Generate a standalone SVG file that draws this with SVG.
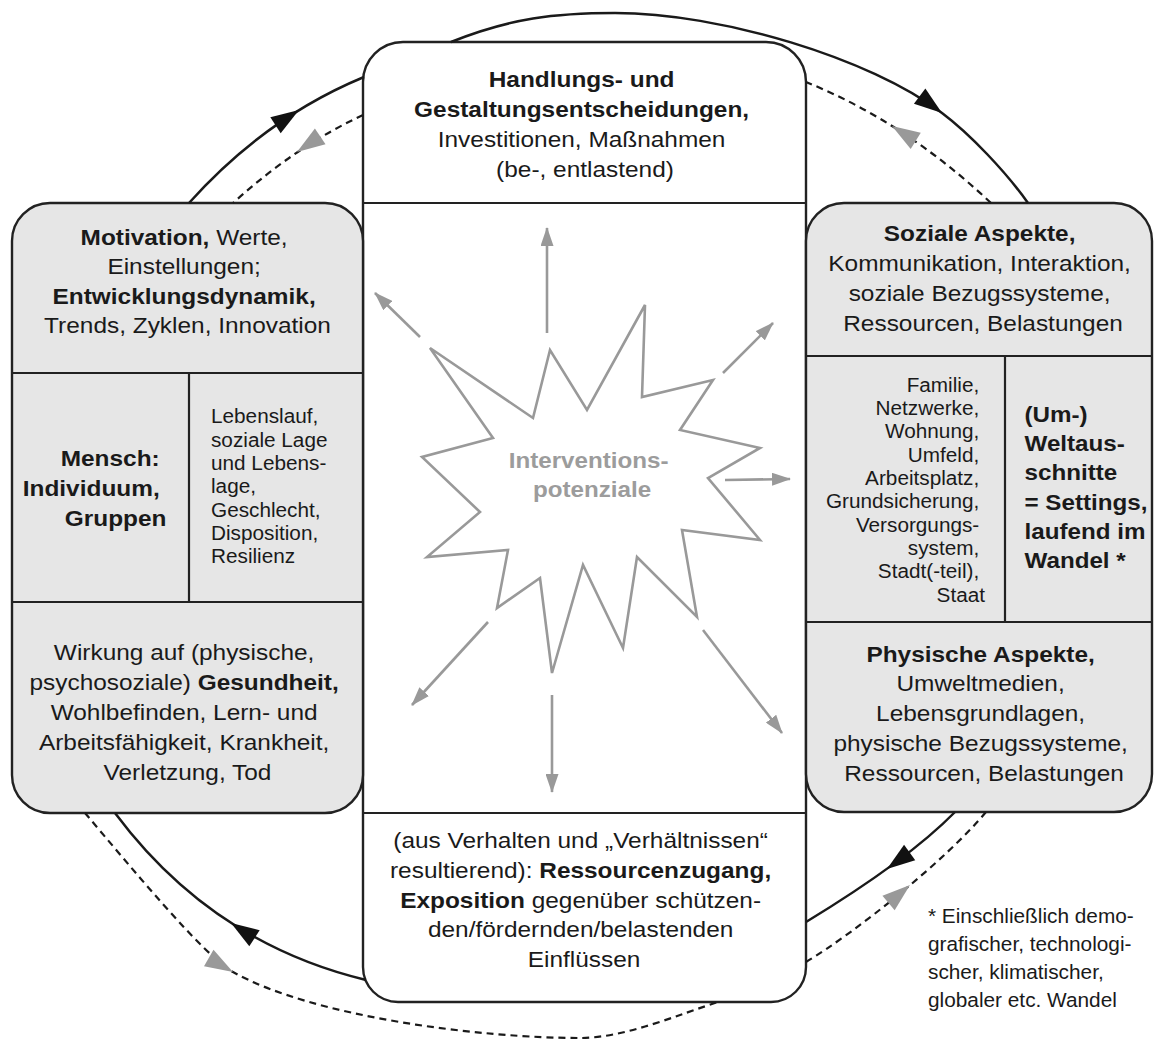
<svg xmlns="http://www.w3.org/2000/svg" xmlns:xlink="http://www.w3.org/1999/xlink" width="1155" height="1042" viewBox="0 0 1155 1042">
<defs>
<style>
.box{stroke:#222;stroke-width:2.4}
.side{fill:#e6e6e6}
.white{fill:#fff}
.div{fill:none;stroke:#222;stroke-width:2.2}
.t{font-family:"Liberation Sans",Arial,Helvetica,sans-serif;font-size:22px;fill:#1a1a1a}
.s{font-size:19.5px}
.b{font-weight:bold}
.arc{fill:none;stroke:#1a1a1a;stroke-width:2.5}
.dash{fill:none;stroke:#1a1a1a;stroke-width:2.2;stroke-dasharray:7 5}
.ray{fill:none;stroke:#999;stroke-width:2.6;marker-end:url(#rayhead)}
.star{fill:#fff;stroke:#999;stroke-width:2.6;stroke-linejoin:miter}
.it{font-family:"Liberation Sans",Arial,Helvetica,sans-serif;font-size:22px;font-weight:bold;fill:#9c9c9c}
.ahk{fill:#111}
.ahg{fill:#999}
</style>
<marker id="rayhead" viewBox="0 0 19 13" markerWidth="19" markerHeight="13" refX="18" refY="6.5" orient="auto" markerUnits="userSpaceOnUse"><path d="M0,0 L19,6.5 L0,13 Z" fill="#999"/></marker>
<path id="ah" d="M0,0 L-28,-9.5 L-28,9.5 Z"/>
</defs>
<rect width="1155" height="1042" fill="#fff"/>

<g id="node-center-frame">
<path class="box white" d="M363,82 A40,40 0 0 1 403,42 L766,42 A40,40 0 0 1 806,82 L806,967 A35,35 0 0 1 771,1002 L398,1002 A35,35 0 0 1 363,967 Z"/>
<path class="div" d="M363,203 L806,203 M363,813 L806,813"/>
</g>

<g id="node-handlungen">
<g transform="translate(585,0) scale(1.11,1)">
<text class="t" text-anchor="middle">
<tspan class="b" x="0" y="87">Handlungs- und</tspan>
<tspan class="b" x="0" y="117">Gestaltungsentscheidungen,</tspan>
<tspan x="0" y="147">Investitionen, Maßnahmen</tspan>
<tspan x="0" y="177">(be-, entlastend)</tspan>
</text>
</g>
</g>

<g id="node-mensch">
<rect class="box side" x="12" y="203" width="351" height="610" rx="38"/>
<path class="div" d="M12,373 L363,373 M12,602 L363,602 M189,373 L189,602"/>
<g transform="translate(187.5,0) scale(1.11,1)">
<text class="t" text-anchor="middle">
<tspan x="0" y="245"><tspan class="b">Motivation,</tspan> Werte,</tspan>
<tspan x="0" y="274">Einstellungen;</tspan>
<tspan class="b" x="0" y="304">Entwicklungsdynamik,</tspan>
<tspan x="0" y="333">Trends, Zyklen, Innovation</tspan>
</text>
</g>
<g transform="translate(166.5,0) scale(1.11,1)">
<text class="t b" text-anchor="end">
<tspan x="0" y="466">Mensch:</tspan>
<tspan x="0" y="496">Individuum,</tspan>
<tspan x="0" y="526">Gruppen</tspan>
</text>
</g>
<g transform="translate(211,0) scale(1.064,1)">
<text class="t s">
<tspan x="0" y="423">Lebenslauf,</tspan>
<tspan x="0" y="447">soziale Lage</tspan>
<tspan x="0" y="470">und Lebens-</tspan>
<tspan x="0" y="493">lage,</tspan>
<tspan x="0" y="517">Geschlecht,</tspan>
<tspan x="0" y="540">Disposition,</tspan>
<tspan x="0" y="563">Resilienz</tspan>
</text>
</g>
<g transform="translate(187.5,0) scale(1.11,1)">
<text class="t" text-anchor="middle">
<tspan x="0" y="660">Wirkung auf (physische,</tspan>
<tspan x="0" y="690">psychosoziale) <tspan class="b">Gesundheit,</tspan></tspan>
<tspan x="0" y="720">Wohlbefinden, Lern- und</tspan>
<tspan x="0" y="750">Arbeitsfähigkeit, Krankheit,</tspan>
<tspan x="0" y="780">Verletzung, Tod</tspan>
</text>
</g>
</g>

<g id="node-settings">
<rect class="box side" x="806" y="203" width="346" height="609" rx="38"/>
<path class="div" d="M806,356 L1152,356 M806,622 L1152,622 M1005,356 L1005,622"/>
<g transform="translate(983,0) scale(1.11,1)">
<text class="t" text-anchor="middle">
<tspan class="b" x="0" y="241">Soziale Aspekte,</tspan>
<tspan x="0" y="271">Kommunikation, Interaktion,</tspan>
<tspan x="0" y="301">soziale Bezugssysteme,</tspan>
<tspan x="0" y="331">Ressourcen, Belastungen</tspan>
</text>
</g>
<g transform="translate(985,0) scale(1.064,1)">
<text class="t s" text-anchor="end">
<tspan x="0" y="392">Familie,</tspan>
<tspan x="0" y="415">Netzwerke,</tspan>
<tspan x="0" y="438">Wohnung,</tspan>
<tspan x="0" y="462">Umfeld,</tspan>
<tspan x="0" y="485">Arbeitsplatz,</tspan>
<tspan x="0" y="508">Grundsicherung,</tspan>
<tspan x="0" y="532">Versorgungs-</tspan>
<tspan x="0" y="555">system,</tspan>
<tspan x="0" y="578">Stadt(-teil),</tspan>
<tspan x="0" y="602">Staat</tspan>
</text>
</g>
<g transform="translate(1024.5,0) scale(1.1,1)">
<text class="t b">
<tspan x="0" y="422">(Um-)</tspan>
<tspan x="0" y="451">Weltaus-</tspan>
<tspan x="0" y="480">schnitte</tspan>
<tspan x="0" y="510">= Settings,</tspan>
<tspan x="0" y="539">laufend im</tspan>
<tspan x="0" y="568">Wandel *</tspan>
</text>
</g>
<g transform="translate(984,0) scale(1.11,1)">
<text class="t" text-anchor="middle">
<tspan class="b" x="0" y="662">Physische Aspekte,</tspan>
<tspan x="0" y="691">Umweltmedien,</tspan>
<tspan x="0" y="721">Lebensgrundlagen,</tspan>
<tspan x="0" y="751">physische Bezugssysteme,</tspan>
<tspan x="0" y="781">Ressourcen, Belastungen</tspan>
</text>
</g>
</g>

<g id="node-ressourcenzugang">
<g transform="translate(584,0) scale(1.11,1)">
<text class="t" text-anchor="middle">
<tspan x="0" y="848">(aus Verhalten und „Verhältnissen“</tspan>
<tspan x="0" y="878">resultierend): <tspan class="b">Ressourcenzugang,</tspan></tspan>
<tspan x="0" y="908"><tspan class="b">Exposition</tspan> gegenüber schützen-</tspan>
<tspan x="0" y="937">den/fördernden/belastenden</tspan>
<tspan x="0" y="967">Einflüssen</tspan>
</text>
</g>
</g>

<g id="node-interventionspotenziale">
<polygon class="star" points="430,348 533,418 550,350 587,410 645,305 642,397 713,380 680,430 760,448 708,478 760,540 682,530 697,617 637,557 623,648 583,565 552,673 540,578 497,608 508,550 427,557 480,512 422,457 493,438"/>
<g transform="translate(592,0) scale(1.1,1)">
<text class="it" text-anchor="middle">
<tspan x="0" y="468">Interventions-</tspan>
<tspan x="0" y="497">potenziale</tspan>
</text>
</g>
</g>

<g id="footnote">
<g transform="translate(928,0) scale(1.067,1)">
<text class="t s">
<tspan x="0" y="923">* Einschließlich demo-</tspan>
<tspan x="0" y="951">grafischer, technologi-</tspan>
<tspan x="0" y="979">scher, klimatischer,</tspan>
<tspan x="0" y="1007">globaler etc. Wandel</tspan>
</text>
</g>
</g>

<g id="connectors">
<path class="arc" d="M189,203 Q265,118 364,77"/>
<path class="arc" d="M451,42 C511,18 555,13 615,13 C720,13 870,58 942,113 C970,134 1006,172 1028,203"/>
<path class="arc" d="M955,812 Q908,860 806,922"/>
<path class="arc" d="M366,980 Q212,943 115,813"/>
<path class="dash" d="M363,115 Q296,146 233,203"/>
<path class="dash" d="M991,203 Q905,122 806,82"/>
<path class="dash" d="M85,813 C130,866 203,955 233,972 C313,1017 480,1038 580,1038 C625,1038 680,1014 718,1002"/>
<path class="dash" d="M806,962 C856,932 946,860 986,812"/>
<use xlink:href="#ah" href="#ah" class="ahk" transform="translate(299,110) rotate(-33)"/>
<use xlink:href="#ah" href="#ah" class="ahk" transform="translate(942,113) rotate(37)"/>
<use xlink:href="#ah" href="#ah" class="ahk" transform="translate(887,869) rotate(144)"/>
<use xlink:href="#ah" href="#ah" class="ahk" transform="translate(231,923) rotate(-147)"/>
<use xlink:href="#ah" href="#ah" class="ahg" transform="translate(297,152) rotate(146)"/>
<use xlink:href="#ah" href="#ah" class="ahg" transform="translate(892,126) rotate(-148)"/>
<use xlink:href="#ah" href="#ah" class="ahg" transform="translate(233,972) rotate(30)"/>
<use xlink:href="#ah" href="#ah" class="ahg" transform="translate(910,885) rotate(-40)"/>
<path class="ray" d="M547,333 L547,228"/>
<path class="ray" d="M420,337 L375,293"/>
<path class="ray" d="M723,373 L773,323"/>
<path class="ray" d="M725,480 L790,479"/>
<path class="ray" d="M488,622 L412,705"/>
<path class="ray" d="M552,695 L552,792"/>
<path class="ray" d="M703,630 L782,733"/>
</g>
</svg>
